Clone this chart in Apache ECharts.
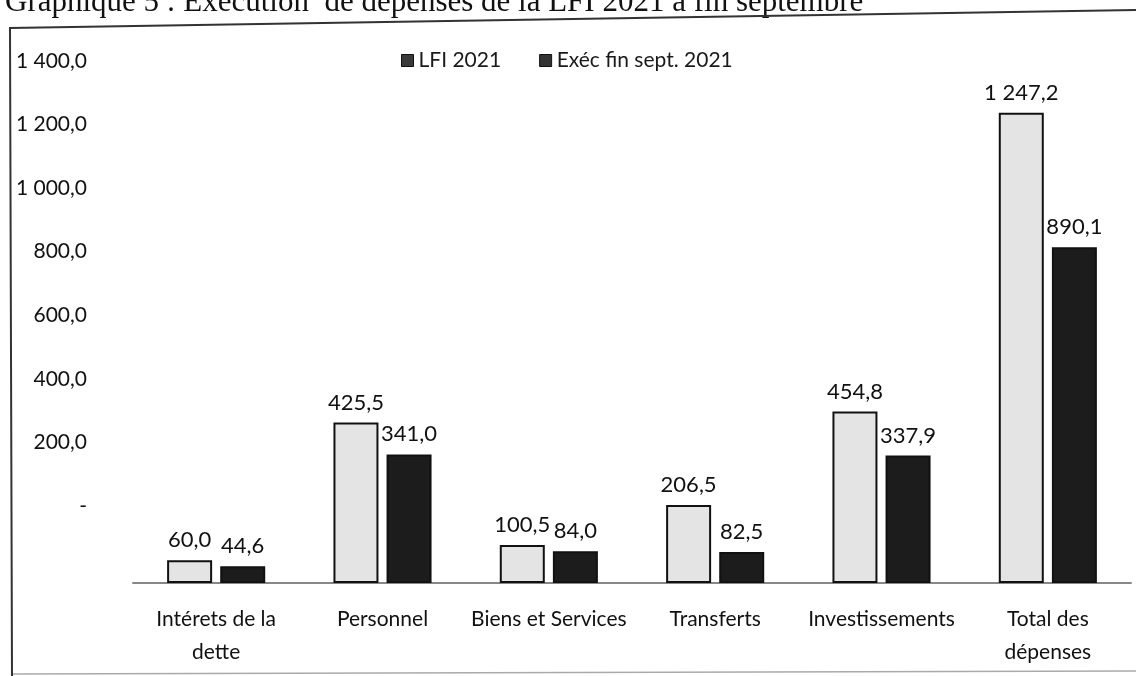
<!DOCTYPE html>
<html>
<head>
<meta charset="utf-8">
<title>Graphique 5</title>
<script src="https://cdn.jsdelivr.net/npm/echarts@6/dist/echarts.min.js"></script>
<style>
  html, body { margin: 0; padding: 0; background: #fff; }
  #chart { width: 1136px; height: 676px; }
</style>
</head>
<body>
<div id="chart"></div>
<script>
// données du graphique (milliards)
var categories = ['Intérets de la\ndette', 'Personnel', 'Biens et Services', 'Transferts', 'Investissements', 'Total des\ndépenses'];
var lfi2021 = [60.0, 425.5, 100.5, 206.5, 454.8, 1247.2];
var execSept2021 = [44.6, 341.0, 84.0, 82.5, 337.9, 890.1];
var yTicks = [0, 200, 400, 600, 800, 1000, 1200, 1400];
var seriesNames = ['LFI 2021', 'Exéc fin sept. 2021'];

var font = 'Lato, "Open Sans", sans-serif';

// format français : 1 247,2 ; zéro -> "-"
function fr(v) {
	if (v === 0) return '-';
	var s = v.toFixed(1).split('.');
	var ent = s[0].replace(/\B(?=(\d{3})+(?!\d))/g, ' ');
	return ent + ',' + s[1];
}

var myChart = echarts.init(document.getElementById('chart'));

myChart.setOption({
	backgroundColor: '#fff',
	animation: false,
	title: {
		text: 'Graphique 5 : Exécution  de dépenses de la LFI 2021 à fin septembre',
		left: 0,
		top: -18,
		textStyle: {
			fontFamily: '"Liberation Serif", serif',
			fontWeight: 'normal',
			fontSize: 31,
			color: '#111'
		}
	},
	graphic: [{
		type: 'polyline',
		shape: { points: [[12, 676], [10, 28], [1136, 10]] },
		style: { stroke: '#333', lineWidth: 2, fill: null },
		z: 100
	}, {
		type: 'line',
		shape: { x1: 12, y1: 674, x2: 1136, y2: 671 },
		style: { stroke: '#aaa', lineWidth: 1.5 }
	}],
	legend: {
		data: [
			{ name: seriesNames[0], itemStyle: { color: '#3a3a3a', borderColor: '#111', borderWidth: 1 } },
			{ name: seriesNames[1], itemStyle: { color: '#333', borderColor: '#111', borderWidth: 1 } }
		],
		left: 396,
		top: 45,
		icon: 'rect',
		itemWidth: 12,
		itemHeight: 12,
		itemGap: 38,
		textStyle: { fontFamily: font, fontSize: 21, color: '#1a1a1a' }
	},
	grid: [
		// grille des libellés de l'axe vertical
		{ left: 93, right: 5, top: 61, height: 445 },
		// grille des barres
		{ left: 133, right: 5, top: 55, height: 528 }
	],
	xAxis: [{
		gridIndex: 0,
		type: 'value',
		min: 0,
		max: 1,
		show: false
	}, {
		gridIndex: 1,
		type: 'category',
		data: categories,
		axisLine: { lineStyle: { color: '#888', width: 2 } },
		axisTick: { show: false },
		axisLabel: {
			fontFamily: font,
			fontSize: 21,
			color: '#111',
			lineHeight: 33,
			margin: 20,
			interval: 0
		}
	}],
	yAxis: [{
		gridIndex: 0,
		type: 'value',
		min: yTicks[0],
		max: yTicks[yTicks.length - 1],
		interval: 200,
		axisLine: { show: false },
		axisTick: { show: false },
		splitLine: { show: false },
		axisLabel: {
			fontFamily: font,
			fontSize: 21,
			color: '#111',
			margin: 6,
			formatter: function (v) { return fr(v); }
		}
	}, {
		gridIndex: 1,
		type: 'value',
		min: yTicks[0],
		max: yTicks[yTicks.length - 1],
		interval: 200,
		show: false,
		splitLine: { show: false }
	}],
	series: [{
		name: seriesNames[0],
		type: 'bar',
		xAxisIndex: 1,
		yAxisIndex: 1,
		data: lfi2021,
		barWidth: 45,
		barGap: '18%',
		itemStyle: { color: '#e4e4e4', borderColor: '#111', borderWidth: 2 },
		label: {
			show: true,
			position: 'top',
			distance: 9,
			fontFamily: font,
			fontSize: 22,
			color: '#111',
			formatter: function (p) { return fr(p.value); }
		}
	}, {
		name: seriesNames[1],
		type: 'bar',
		xAxisIndex: 1,
		yAxisIndex: 1,
		data: execSept2021,
		barWidth: 45,
		barGap: '18%',
		itemStyle: { color: '#1c1c1c', borderColor: '#111', borderWidth: 2 },
		label: {
			show: true,
			position: 'top',
			distance: 9,
			fontFamily: font,
			fontSize: 22,
			color: '#111',
			formatter: function (p) { return fr(p.value); }
		}
	}]
});
</script>
</body>
</html>
